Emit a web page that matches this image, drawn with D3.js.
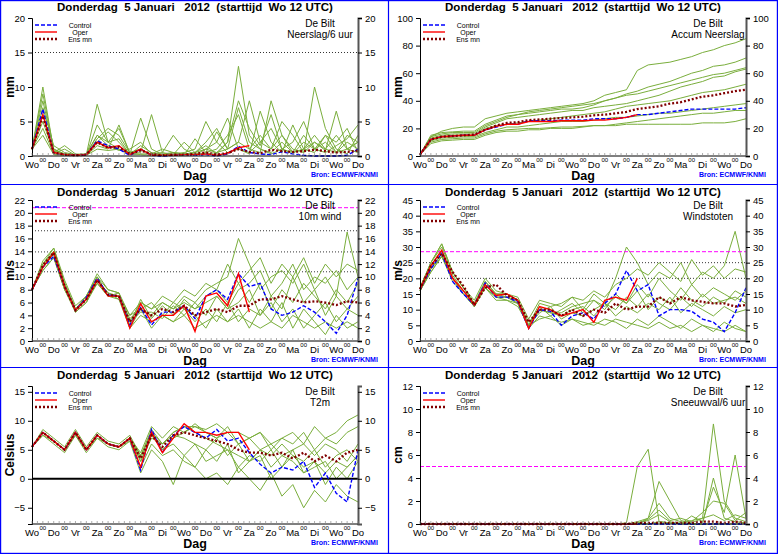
<!DOCTYPE html>
<html><head><meta charset="utf-8">
<script src="https://cdn.jsdelivr.net/npm/d3@7"></script>
<style>body{margin:0;background:#fff}svg{font-family:"Liberation Sans",Arial,sans-serif}</style>
</head><body><svg id="c" width="778" height="554"></svg>
<script>
// time axis: 12-hourly steps from Wo 12 UTC, 15 days
var dayLabels = ['Wo','Do','Vr','Za','Zo','Ma','Di','Wo','Do','Vr','Za','Zo','Ma','Di','Wo','Do'];
function zeros(n) { return new Array(n).fill(0); }

// Neerslag/6 uur
var precipControl = [1,6.8,0.4,0.2,0.1,0.2,2.2,1.5,1.0,0.1,1.0,0.1,0,0.1,0.2,0.1,0.2,0,0.3,1.4,0.5,0.3,0.2,0.6,0.3,0.1,0,0,0,0.1,1.0];
var precipOper = [1,6.0,0.5,0.2,0.1,0.2,2.0,1.2,1.5,0.2,1.0,0.1,0.1,0.1,0.2,0.2,0.3,0.1,0.4,1.2,1.5];
var precipMean = [1,5.8,0.5,0.2,0.1,0.2,2.0,1.2,1.3,0.3,0.8,0.3,0.1,0.2,0.2,0.3,0.5,0.2,0.4,1.0,0.6,0.4,0.9,0.7,0.6,0.7,0.9,0.7,0.5,0.6,0.8];
var precipMembers = [
  [1,8,1,0.2,0.1,0.3,3,2,4,0.5,1,0.2,0.1,0.5,0.3,0.2,1,0.5,2,13,3,1,0.5,2,0.5,1,3,1,0.5,2,1],
  [1,5,0.5,1.5,0.3,0.2,7.5,2,1,0.2,5.5,1,0.2,0.1,0.3,0.5,2,4,1,2,8,2,1,3,0.5,1,2,0.8,6.5,1,2],
  [1,10,0.8,0.3,0.2,0.1,2,3.5,2,0.3,0.5,6,0.5,0.2,0.1,2.5,0.5,1,3,6,1,0.5,8,3,1,0.5,10,4,1,0.3,3],
  [1,4,0.3,0.2,0.1,0.1,1.5,1,4.5,0.4,0.2,0.1,0.1,0.3,0.5,1,5,2,0.5,1,0.3,6.5,2,0.5,4.5,1,0.5,3,2,4,0.5],
  [1,7,1.5,0.5,0.2,0.3,3,1.5,0.8,1,2,0.3,0.5,3,1,0.2,0.3,0.5,1,7,2,1,0.3,1,2,5,1,0.5,1.5,2.5,4.5],
  [1,6,0.4,1,0.1,0.2,4.5,2,2.5,0.2,1.5,0.5,0.2,0.2,2,0.5,1,2,5.5,1,0.5,2,4,1,0.3,2,1,3,0.5,1,2],
  [1,3,0.2,0.1,0.1,0.1,1,0.8,1,0.2,0.3,0.3,1,0.5,0.3,0.2,0.5,3.5,1,2,1,3,1,5,3,0.5,2,1,3,1,0.5],
  [1,9,1,0.3,0.2,0.1,2.5,4,3,0.5,1,0.2,0.3,0.5,0.2,0.5,1.5,0.3,2,8,4,1.5,6,1,0.5,3,1,2,0.5,3,2]
];

// Accum Neerslag
var accumControl = [1,12,14,14.5,15,15,19,21,23,23,25.5,25.5,25.5,26,26,26,27,27,27,28,30,30,31,32,33,34,34,34,34,34,35];
var accumOper = [1,12,14,14.5,15,15,19,21.5,23,23,25,25,25,25.5,25.5,25.5,26,26,27,28,30];
var accumMean = [1,12,14,14.5,15,15.5,19,22,24,24.5,26,26.5,27,27.5,28,28.5,29.5,30,31,32,34,35,36,38,39,41,43,44,45.5,47,48];
var accumMembers = [
  [1,14,18,20,21,21,27,29,31,32,33,34,35,36,37,38,40,44,46,48,62,66,67,68,70,72,75,77,80,82,85],
  [1,10,12,12.5,13,13,16,18,19,19.5,20,20,20.5,21,21,21.5,22,22,22,23,23,23,23,23,23,23,24,24,24,25,27],
  [1,15,17,17.5,18,18,23,26,29,30,31,32,33,34,34,35,37,40,42,45,47,50,52,54,57,60,62,65,66,68,71],
  [1,11,13,13.5,14,14,17,19,21,21,22,23,24,25,25,25,26,27,28,28,29,30,31,31,32,33,34,35,36,37,38],
  [1,13,15,16,16,16,21,24,27,28,29,30,31,32,33,33,35,36,37,38,40,42,44,47,50,52,54,57,58,61,63],
  [1,12,14,15,15,15,20,22,23,24,25,26,27,28,29,30,31,32,34,36,37,38,39,40,42,44,46,47,48,50,52],
  [1,9,11,11.5,12,12,15,17,18,18,19,19,20,20,20,21,22,22,23,24,25,26,27,28,29,30,31,31,32,33,33],
  [1,14,16,17,17,17,22,25,28,30,32,33,34,35,36,37,38,40,42,44,45,47,49,51,53,55,57,59,60,62,64]
];

// 10m wind
var windControl = [8,11.5,13.2,8.5,4.8,6.8,9.8,7.2,7,2.5,5.2,2.5,4.5,4.5,5.5,3.5,7,8,6.5,10.5,8.5,9,5,4,4.5,5.5,4.5,3,1.2,4,9.8];
var windOper = [8,11.5,13.8,8.5,4.8,6.5,9.5,7,7,2,5.8,3,4,4,5.5,1.5,7,7.5,5.5,10.5,4.5];
var windMean = [8,11.8,13.8,8.5,4.8,6.5,9.5,7.2,7,3,5,4,5,4.5,5.5,4,4.5,5,4.5,5.5,5.5,6.5,6.5,7,6.5,6,6.2,6,5.6,6.2,6];
var windMembers = [
  [8,12,14.5,9,5,7,10,8,7.5,3,6,5,6,5,7,6,8,9,10,16,12,8,10,11,9,12,8,10,7,17,10],
  [8,11,13,8,4.5,6,9,7,6.5,2,4,3,4,3,4,2,3,4,3,4,3,2,3,2,4,3,2,3,2,3,2],
  [8,12,14,9,5,6.5,9.5,7.5,7,3.5,5,4,6,5,6,5,6,7,5,8,9,11,7,9,12,8,10,9,11,8,10],
  [8,11.5,13.5,8.5,4.8,7,10,7,7,4,5,6,4,6,5,3,5,3,6,3,5,4,6,3,5,2,4,6,3,5,4],
  [8,12,13.5,9,5,6.5,9,7,7.5,2.5,6.5,3.5,5.5,4,6.5,5,7,8,6,9,6,9,5,8,6,9,7,5,8,6,9],
  [8,11.5,14,8.5,4.5,6,9.5,7.5,6.5,3,4.5,4.5,3.5,5.5,4,6,4,7,5,6,8,4,7,5,10,6,8,4,7,5,7],
  [8,11,13,8,5,6.5,10,7,7,2,5,2,4,3,5,4,2,5,3,5,2,5,3,6,2,5,3,1,4,2,3],
  [8,12.5,14.5,9.5,5.5,7,10.5,8,7.5,4,6,5,7,6,8,7,9,8,12,9,11,13,9,12,10,13,9,12,10,12,11]
];

// Windstoten
var gustControl = [16.5,23,28,19,15,11.5,18.5,14,14,12.5,4,10,9.5,5,8,9,7,12,15,22.5,16,18,8,10,10,9.5,7,6,3,9,17];
var gustOper = [16.5,24,29,20,16,11.5,18,14.5,15,13,4,11,10,8,9,10,6,13,14,13,20];
var gustMean = [16.5,24,28,22,17.5,11.5,17,18,14.5,13,6,10,10,8,10,8,10,9,12,10,11,11,14,12,14,13,12.5,12,12,11,11.5];
var gustMembers = [
  [16,25,31,22,17,12,19,15,15,13,5,12,11,12,14,10,15,12,20,30,25,18,22,20,25,18,22,20,24,35,20],
  [16,22,27,20,15,11,17,14,13,12,4,8,7,6,7,5,6,5,7,6,5,4,6,4,5,3,5,4,3,5,3],
  [17,24,29,21,16,12,18,15,14,13,6,10,9,9,11,12,13,10,15,12,18,14,20,16,13,18,14,17,15,13,16],
  [16,23,28,20,16,11,17,14,14,12,5,9,11,7,9,8,10,12,8,11,9,12,10,14,9,12,10,8,11,9,10],
  [17,25,30,22,17,12,19,15,15,13,5,11,8,10,12,9,13,11,14,12,16,10,14,12,17,13,11,14,12,16,14],
  [16,23,27,20,15,11,18,14,14,12,4,10,9,8,10,11,8,12,10,14,11,15,12,10,14,11,15,12,13,14,12],
  [16,22,27,19,15,11,17,13,13,11,5,7,8,5,7,6,5,7,6,4,7,5,8,6,4,7,5,3,6,4,3],
  [17,25,31,22,17,13,20,16,15,14,7,13,12,11,14,13,16,14,18,20,23,21,25,22,19,26,21,24,20,23,22]
];

// T2m
var tempControl = [5.5,8,6.5,5,8,5,7.5,6,5.5,7,1.5,8.5,4.5,7.5,9,8,7,8.5,6.5,7,4.5,2.5,1,2,1.5,3,-1.5,1,-2.5,-4,5];
var tempOper = [5.5,8,6.5,5,8,5,7.5,6,5.5,7,2,8,4.5,7,9.5,8,8,7.5,8,8,5];
var tempMean = [5.5,8,6.5,5,8,5,7.5,6,5.5,7,3.5,7.5,5.5,7.5,8,7.5,7,6.5,6,5,4.5,4.5,4,4.5,3.5,4.5,3,4,3,4.5,5];
var tempMembers = [
  [5.5,8.5,7,5.5,8.5,5.5,8,6.5,6,7.5,4,8.5,6,8,9,9,8.5,9.5,8,8,7,8,6,7,8,6,9,7,8,10,11],
  [5.5,7.5,6,4.5,7.5,4.5,7,5.5,5,6.5,2,6,4,5,3,2,0,1,-1,2,0,-2,1,-3,-1,-5,-2,-4,-1,-3,-4],
  [5.5,8,6.5,5,8,5,7.5,6,5.5,7,3,7,6,8,9,8,7,6,5,4,3,5,2,4,3,1,2,3,0,2,4],
  [5.5,8,6.5,5,8,5,7.5,6,5.5,7,4,8,5,7,8,9,8,7,8,6,7,5,6,4,5,6,4,6,5,3,6],
  [5.5,7.5,6.5,5,7.5,5,7,6,5.5,6.5,1,5,3,-1,4,2,5,3,6,1,3,4,0,2,5,1,3,-1,2,0,3],
  [5.5,8,6.5,5,8,5,7.5,6,5.5,7,4.5,9,7,9,8,9.5,8,7,9,6,7,8,5,7,6,8,5,7,6,8,9],
  [5.5,8,6.5,5,8,5,7.5,6,5.5,7,3,7.5,5,6,4,6,3,4,5,2,4,3,5,2,4,2,3,1,3,2,4],
  [5.5,8,6.5,5,8,5,7.5,6,5.5,7,3.5,8,6,7.5,7,6,5,7,4,6,3,5,4,6,4,3,5,2,4,5,3]
];

// Sneeuwval/6 uur
var snowControl = zeros(31);
var snowOper = zeros(21);
var snowMean = zeros(20).concat([0.1,0.1,0.1,0.1,0.1,0.1,0.2,0.2,0.1,0.2,0.1]);
var snowMembers = [
  zeros(19).concat([0.1,5,6.5,0.2,0.1,0,0,0,0,0,0,0]),
  zeros(20).concat([0,0.5,1.8,0.5,0.2,0,0,4,0.5,0.2,0.1]),
  zeros(20).concat([0.2,0.5,3.7,2,0.3,0.1,0.5,8.7,2,0.5,0.2]),
  zeros(20).concat([0.1,0.3,0.8,0.2,0,0.7,0.2,3.2,1,6,0.5]),
  zeros(21).concat([0.4,1.2,0.3,0.5,0.2,1,2,1.8,0.3,1]),
  zeros(22).concat([0.2,0.1,0.1,0.3,0.5,0.8,0.3,0.8,0.5])
];

var panels = [
  {x: 0, y: 0, top: 18, domain: [0, 20], ticks: [0,5,10,15,20], unit: 'mm', name: 'Neerslag/6 uur',
   members: precipMembers, control: precipControl, oper: precipOper, mean: precipMean, dotted: [15], magenta: []},
  {x: 388, y: 0, top: 18, domain: [0, 100], ticks: [0,20,40,60,80,100], unit: 'mm', name: 'Accum Neerslag',
   members: accumMembers, control: accumControl, oper: accumOper, mean: accumMean, dotted: [], magenta: []},
  {x: 0, y: 185, top: 15, domain: [0, 22], ticks: d3.range(0, 23, 2), unit: 'm/s', name: '10m wind',
   members: windMembers, control: windControl, oper: windOper, mean: windMean, dotted: [10.8, 13.9, 17.2], magenta: [20.8]},
  {x: 388, y: 185, top: 15, domain: [0, 45], ticks: d3.range(0, 46, 5), unit: 'm/s', name: 'Windstoten',
   members: gustMembers, control: gustControl, oper: gustOper, mean: gustMean, dotted: [20, 25], magenta: [28.5]},
  {x: 0, y: 368, top: 18, domain: [-7.8, 16], ticks: [-5,0,5,10,15], unit: 'Celsius', name: 'T2m',
   members: tempMembers, control: tempControl, oper: tempOper, mean: tempMean, dotted: [], magenta: [], zeroLine: true},
  {x: 388, y: 368, top: 18, domain: [0, 12], ticks: d3.range(0, 13, 2), unit: 'cm', name: 'Sneeuwval/6 uur',
   members: snowMembers, control: snowControl, oper: snowOper, mean: snowMean, dotted: [], magenta: [5]}
];

var svg = d3.select('#c');

function drawPanel(p) {
  var g = svg.append('g').attr('transform', 'translate(' + p.x + ',' + p.y + ')');
  var x = d3.scaleLinear().domain([0, 15]).range([32, 358]);
  var y = d3.scaleLinear().domain(p.domain).range([156, p.top]);
  var line = d3.line().x(function(d, i) { return x(i * 0.5); }).y(function(d) { return y(d); });

  g.append('text').attr('x', 195).attr('y', 11).attr('text-anchor', 'middle')
    .attr('font-size', 11.5).attr('font-weight', 'bold').attr('xml:space', 'preserve')
    .text('Donderdag  5 Januari   2012  (starttijd  Wo 12 UTC)');

  var ref = g.append('g');
  p.dotted.forEach(function(v) {
    ref.append('line').attr('x1', 32).attr('x2', 358).attr('y1', y(v)).attr('y2', y(v))
      .attr('stroke', '#000').attr('stroke-width', 0.8).attr('stroke-dasharray', '1,2');
  });

  g.append('g').selectAll('path').data(p.members).enter().append('path')
    .attr('d', line).attr('fill', 'none').attr('stroke', '#7aae3c').attr('stroke-width', 1);

  p.magenta.forEach(function(v) {
    g.append('line').attr('x1', 32).attr('x2', 358).attr('y1', y(v)).attr('y2', y(v))
      .attr('stroke', '#ff00ff').attr('stroke-width', 1).attr('stroke-dasharray', '4,2');
  });
  if (p.zeroLine) {
    g.append('line').attr('x1', 32).attr('x2', 358).attr('y1', y(0)).attr('y2', y(0))
      .attr('stroke', '#000').attr('stroke-width', 2.2);
  }

  g.append('path').attr('d', line(p.control)).attr('fill', 'none').attr('stroke', '#0000ff')
    .attr('stroke-width', 1.4).attr('stroke-dasharray', '4,2');
  g.append('path').attr('d', line(p.oper)).attr('fill', 'none').attr('stroke', '#ff0000').attr('stroke-width', 1.4);
  g.append('path').attr('d', line(p.mean)).attr('fill', 'none').attr('stroke', '#800000')
    .attr('stroke-width', 2.3).attr('stroke-dasharray', '2,2');

  // axes
  g.append('g').attr('transform', 'translate(32,0)')
    .call(d3.axisLeft(y).tickValues(p.ticks).tickSize(4).tickFormat(d3.format('d')))
    .call(function(a) { a.selectAll('text').attr('font-size', 9.5).attr('font-family', 'Liberation Sans'); });
  g.append('g').attr('transform', 'translate(358,0)')
    .call(d3.axisRight(y).tickValues(p.ticks).tickSize(4).tickFormat(d3.format('d')))
    .call(function(a) { a.selectAll('text').attr('font-size', 9.5).attr('font-family', 'Liberation Sans'); a.select('.domain').attr('stroke-width', 2).attr('stroke', '#555'); });
  g.append('line').attr('x1', 32).attr('x2', 358).attr('y1', 156).attr('y2', 156).attr('stroke', '#000');
  g.append('g').selectAll('line').data(d3.range(0, 15.01, 0.25)).enter().append('line')
    .attr('x1', x).attr('x2', x).attr('y1', 156).attr('y2', 153).attr('stroke', '#888').attr('stroke-width', 0.7);

  g.append('g').selectAll('text').data(dayLabels).enter().append('text')
    .attr('x', function(d, i) { return x(i); }).attr('y', 168).attr('text-anchor', 'middle')
    .attr('font-size', 9.5).text(function(d) { return d; });
  g.append('g').selectAll('text').data(d3.range(0.5, 15, 1)).enter().append('text')
    .attr('x', x).attr('y', 162).attr('text-anchor', 'middle').attr('font-size', 6).text('00');

  g.append('text').attr('x', 195).attr('y', 180).attr('text-anchor', 'middle')
    .attr('font-size', 12.5).attr('font-weight', 'bold').text('Dag');
  g.append('text').attr('x', 311).attr('y', 177).attr('font-size', 7).attr('font-weight', 'bold')
    .attr('fill', '#0000ff').text('Bron: ECMWF/KNMI');
  g.append('text').attr('transform', 'translate(14,' + ((156 + p.top) / 2) + ') rotate(-90)')
    .attr('text-anchor', 'middle').attr('font-size', 12).attr('font-weight', 'bold').text(p.unit);

  g.append('text').attr('x', 320).attr('y', p.top + 9).attr('text-anchor', 'middle').attr('font-size', 10).text('De Bilt');
  g.append('text').attr('x', 320).attr('y', p.top + 20).attr('text-anchor', 'middle').attr('font-size', 10).text(p.name);

  // legend
  var leg = [['Control', '#0000ff', 1.4, '4,2'], ['Oper', '#ff0000', 1.4, null], ['Ens mn', '#800000', 2.3, '2,2']];
  leg.forEach(function(l, i) {
    var ly = p.top + 7 + i * 7;
    g.append('line').attr('x1', 35).attr('x2', 57).attr('y1', ly).attr('y2', ly)
      .attr('stroke', l[1]).attr('stroke-width', l[2]).attr('stroke-dasharray', l[3]);
    g.append('text').attr('x', 80).attr('y', ly + 2.5).attr('text-anchor', 'middle').attr('font-size', 7).text(l[0]);
  });
}

panels.forEach(drawPanel);

// panel frames
var frame = svg.append('g').attr('stroke', '#0000ff').attr('stroke-width', 1.2).attr('fill', 'none');
frame.append('rect').attr('x', 0.6).attr('y', 0.6).attr('width', 776.8).attr('height', 552.8);
frame.append('line').attr('x1', 388.5).attr('x2', 388.5).attr('y1', 0).attr('y2', 554);
frame.append('line').attr('x1', 0).attr('x2', 778).attr('y1', 184.5).attr('y2', 184.5);
frame.append('line').attr('x1', 0).attr('x2', 778).attr('y1', 367.5).attr('y2', 367.5);
</script></body></html>
